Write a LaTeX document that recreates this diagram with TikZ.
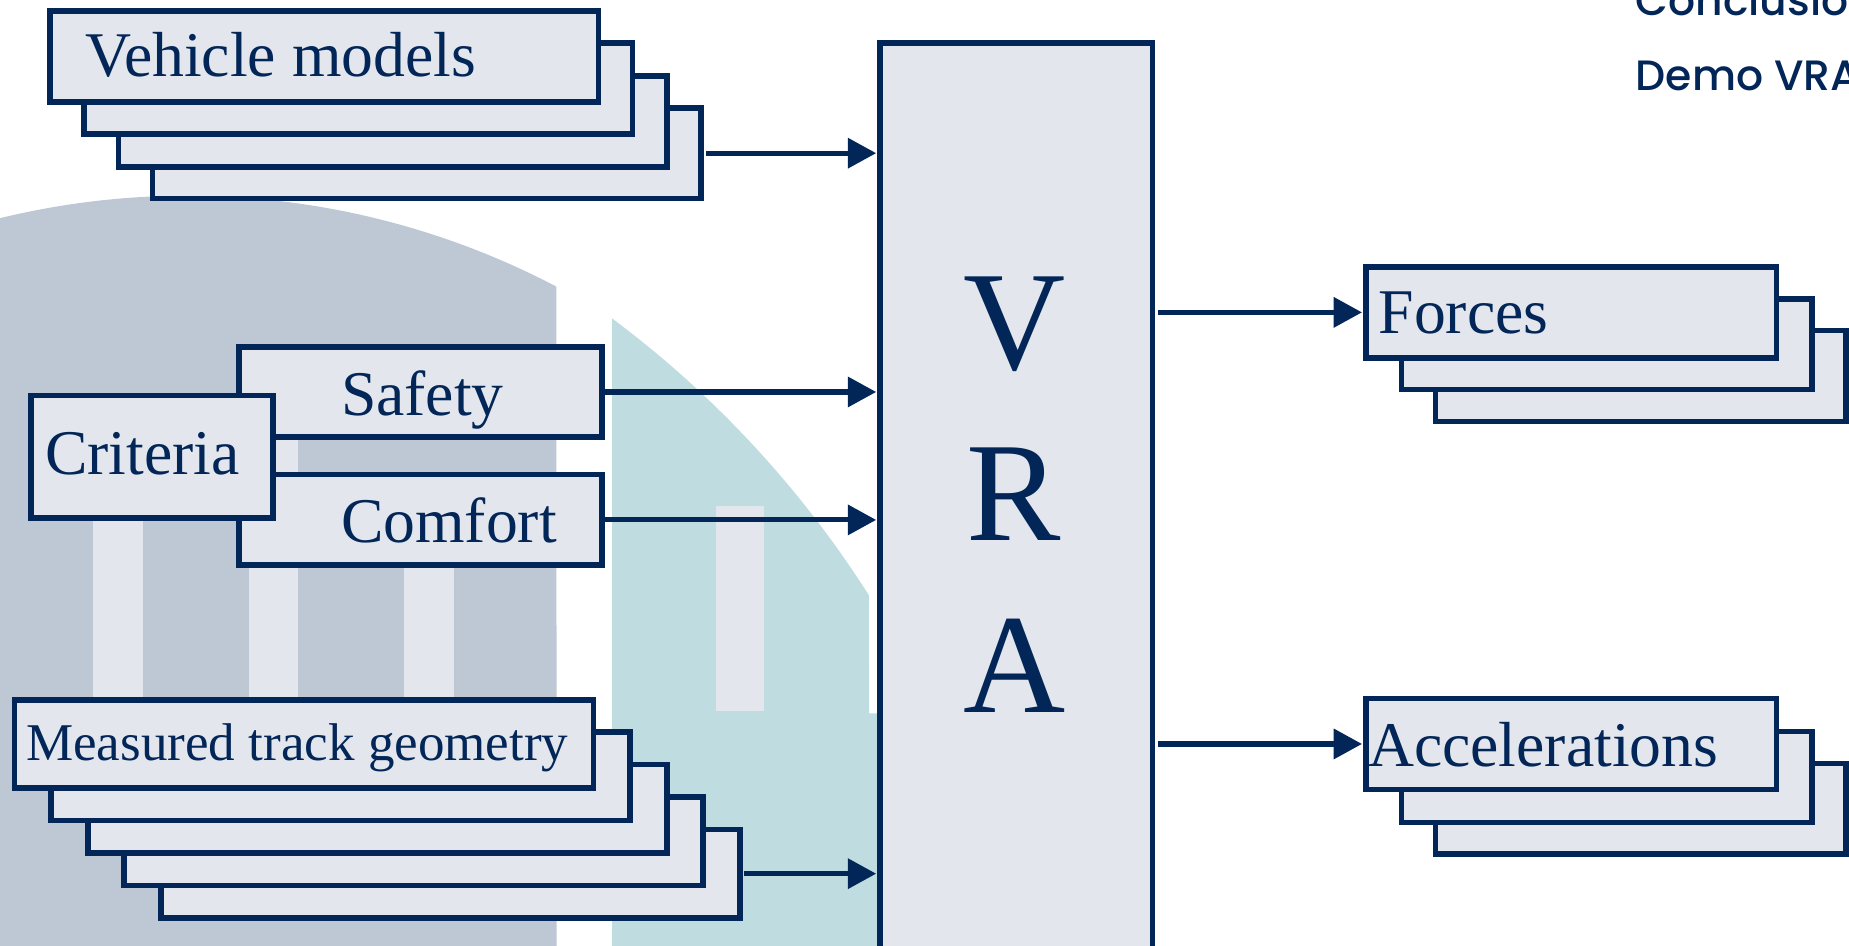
\documentclass[tikz,border=0pt]{standalone}
\usepackage{fontspec}
\setmainfont{Liberation Serif}
\IfFontExistsTF{Poppins Medium}
  {\newfontfamily\headfont{Poppins Medium}}
  {\newfontfamily\headfont{Poppins}[FakeBold=2.5]}
\usetikzlibrary{arrows.meta}

\definecolor{navy}{RGB}{3,38,88}
\definecolor{boxfill}{RGB}{227,231,237}
\definecolor{bggray}{RGB}{190,200,212}
\definecolor{bgteal}{RGB}{191,221,224}
\definecolor{barlight}{RGB}{227,231,237}

\begin{document}
\begin{tikzpicture}[x=1pt,y=-1pt,
  box/.style={draw=navy, fill=boxfill, line width=4.8pt, rectangle, inner sep=0pt, anchor=north west},
  lbl/.style={text=navy, inner sep=0pt, anchor=base west, font=\fontsize{54}{60}\selectfont},
  big/.style={text=navy, inner sep=0pt, anchor=base, font=\fontsize{120}{130}\selectfont},
  head/.style={text=navy, inner sep=0pt, anchor=base west, font=\headfont\fontsize{36}{40}\selectfont},
  arr/.style={draw=navy, line width=4.3pt, -{Triangle[length=24pt,width=25pt]}}]

\useasboundingbox (0,0) rectangle (1568,802);
\clip (0,0) rectangle (1568,802);

% background: grey dome with light pillars
\fill[bggray] (0,185) arc[start angle=-103.67, end angle=-62.3, radius=673]
  -- (472,810) -- (0,810) -- cycle;
\fill[barlight] (79,380) rectangle (121,600);
\fill[barlight] (211,340) rectangle (253,600);
\fill[barlight] (343,420) rectangle (385,600);

% background: teal segment with one pillar
\fill[bgteal] (519,270) arc[start angle=-53.3, end angle=-32.4, radius=883]
  -- (737,605) -- (760,605) -- (760,810) -- (519,810) -- cycle;
\fill[barlight] (607,429) rectangle (648,603);

% central block
\node[box, minimum width=231pt, minimum height=790pt] (vra) at (744,34) {};
\node[big] (vv) at (860,313) {V};
\node[big] (vr) at (860,458) {R};
\node[big] (va) at (860,604) {A};

% vehicle models stack
\node[box, minimum width=465pt, minimum height=77pt] (vm4) at (127,89) {};
\node[box, minimum width=465pt, minimum height=77pt] (vm3) at (98,62) {};
\node[box, minimum width=465pt, minimum height=77pt] (vm2) at (69,34) {};
\node[box, minimum width=465pt, minimum height=77pt] (vm1) at (40,7) {};
\node[lbl] (vmt) at (72,65) {Vehicle models};

% criteria
\node[box, minimum width=308pt, minimum height=76pt] (saf) at (200,292) {};
\node[box, minimum width=308pt, minimum height=77pt] (com) at (200,400) {};
\node[box, minimum width=205pt, minimum height=104pt] (cri) at (24,333) {};
\node[lbl] (safet) at (289,352) {Safety};
\node[lbl] (comt) at (289,460) {Comfort};
\node[lbl] (crit) at (38,402) {Criteria};

% measured track geometry stack
\node[box, minimum width=491pt, minimum height=75pt] (mg5) at (134,701) {};
\node[box, minimum width=491pt, minimum height=75pt] (mg4) at (103,673.5) {};
\node[box, minimum width=491pt, minimum height=75pt] (mg3) at (72,646) {};
\node[box, minimum width=491pt, minimum height=75pt] (mg2) at (41,618.5) {};
\node[box, minimum width=491pt, minimum height=75pt] (mg1) at (10,591) {};
\node[lbl, font=\fontsize{45}{50}\selectfont] (mgt) at (22,645) {Measured track geometry};

% output stacks
\node[box, minimum width=348pt, minimum height=77pt] (fo3) at (1215,278) {};
\node[box, minimum width=348pt, minimum height=77pt] (fo2) at (1186,251) {};
\node[box, minimum width=348pt, minimum height=77pt] (fo1) at (1156,224) {};
\node[lbl] (fot) at (1169,283) {Forces};

\node[box, minimum width=348pt, minimum height=77pt] (ac3) at (1215,645) {};
\node[box, minimum width=348pt, minimum height=77pt] (ac2) at (1186,618) {};
\node[box, minimum width=348pt, minimum height=77pt] (ac1) at (1156,590) {};
\node[lbl] (act) at (1160,650) {Accelerations};

% connectors
\draw[arr] ([xshift=2pt]vm4.east) -- ([xshift=-1pt]vra.west |- vm4.east);
\draw[arr] (saf.east) -- ([xshift=-1pt]vra.west |- saf.east);
\draw[arr] (com.east) -- ([xshift=-1pt]vra.west |- com.east);
\draw[arr] ([xshift=1pt]mg5.east) -- ([xshift=-1pt]vra.west |- mg5.east);
\draw[arr] ([xshift=2pt]vra.east |- fo1.west) -- ([xshift=-1pt]fo1.west);
\draw[arr] ([xshift=2pt]vra.east |- ac1.west) -- ([xshift=-1pt]ac1.west);

% headings
\node[head] (h1) at (1387,13) {Conclusion};
\node[head] (h2) at (1387,77) {Demo VRA};
\end{tikzpicture}
\end{document}
